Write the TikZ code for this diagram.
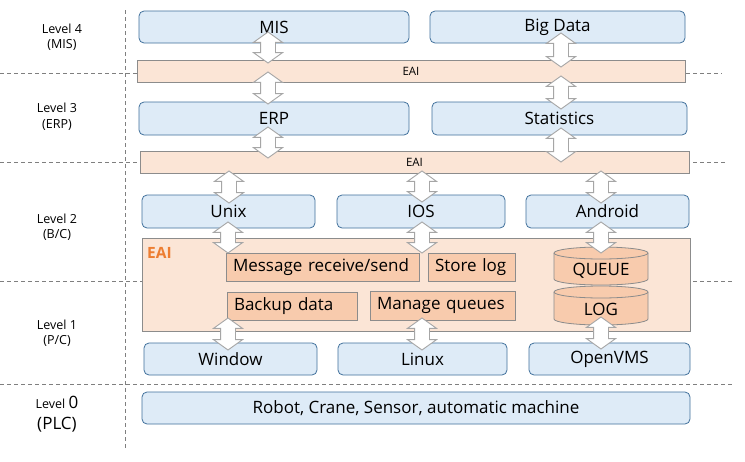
\documentclass[tikz,border=0pt]{standalone}
\usepackage{fontspec}
\setmainfont{Open Sans}
\usetikzlibrary{shapes.arrows}
\definecolor{bfill}{HTML}{DEEBF7}
\definecolor{bdraw}{HTML}{41719C}
\definecolor{pfill}{HTML}{FBE5D6}
\definecolor{pdraw}{HTML}{8C8C8C}
\definecolor{ifill}{HTML}{F8CBAD}
\definecolor{orng}{HTML}{ED7D31}
\definecolor{agray}{HTML}{A6A6A6}
\definecolor{dgray}{HTML}{7F7F7F}
\begin{document}
\begin{tikzpicture}[x=1pt,y=-1pt,
  bluebox/.style={draw=bdraw, fill=bfill, rounded corners=5pt, line width=0.8pt, inner sep=0pt, font=\fontsize{17}{20}\selectfont},
  eaibar/.style={draw=pdraw, fill=pfill, line width=0.8pt, inner sep=0pt, font=\fontsize{11.5}{13}\selectfont},
  innerbox/.style={draw=pdraw, fill=ifill, line width=0.8pt, inner xsep=7pt, inner ysep=0pt, align=left, font=\fontsize{17}{20}\selectfont},
  cyl/.style={draw=pdraw, fill=ifill, line width=0.8pt},
  updown/.style={double arrow, rotate=90, draw=agray, fill=white, line width=0.9pt,
    inner xsep=0pt, inner ysep=7pt, minimum width=28pt,
    double arrow head extend=7pt, double arrow tip angle=109, double arrow head indent=0pt},
  sep/.style={draw=dgray, dashed, dash pattern=on 4pt off 3pt, line width=0.7pt},
  lvl/.style={font=\fontsize{12.5}{15.5}\selectfont, align=center, inner sep=0pt}
]
\useasboundingbox (0,0) rectangle (745,461);
\fill[white] (0,0) rectangle (745,461);

% separators
\coordinate (v1) at (125,10);
\coordinate (v2) at (125,450);
\draw[sep] (v1) -- (v2);
\coordinate (h1a) at (0,73);   \coordinate (h1b) at (722,73);
\coordinate (h2a) at (0,162);  \coordinate (h2b) at (725,162);
\coordinate (h3a) at (0,281);  \coordinate (h3b) at (733,281);
\coordinate (h4a) at (0,384);  \coordinate (h4b) at (733,384);
\draw[sep] (h1a) -- (h1b);
\draw[sep] (h2a) -- (h2b);
\draw[sep] (h3a) -- (h3b);
\draw[sep] (h4a) -- (h4b);

% level labels
\node[lvl] (l4) at (62,37) {Level 4\\(MIS)};
\node[lvl] (l3) at (57,116.5) {Level 3\\(ERP)};
\node[lvl] (l2) at (57,227) {Level 2\\(B/C)};
\node[lvl] (l1) at (57,333) {Level 1\\(P/C)};
\node[lvl] (l0a) at (57,402) {Level {\fontsize{17}{20}\selectfont 0}};
\node[lvl, font=\fontsize{17}{20}\selectfont] (l0b) at (57,425) {(PLC)};

% level 4
\node[bluebox, minimum width=270pt, minimum height=32pt] (mis) at (274,27) {MIS};
\node[bluebox, minimum width=255pt, minimum height=32pt] (bigdata) at (557.5,27) {Big Data};
\node[eaibar, minimum width=548pt, minimum height=22pt] (eai1) at (411,71) {EAI};

% level 3
\node[bluebox, minimum width=270pt, minimum height=33pt] (erp) at (274,118.5) {ERP};
\node[bluebox, minimum width=255pt, minimum height=33pt] (stat) at (559.5,118.5) {Statistics};
\node[eaibar, minimum width=549pt, minimum height=22pt] (eai2) at (414.5,162) {EAI};

% level 2
\node[bluebox, minimum width=173pt, minimum height=33pt] (unix) at (228.5,211.5) {Unix};
\node[bluebox, minimum width=168pt, minimum height=33pt] (ios) at (421,211.5) {IOS};
\node[bluebox, minimum width=163pt, minimum height=33pt] (android) at (607.5,211.5) {Android};

% EAI block
\node[draw=pdraw, fill=pfill, line width=0.8pt, minimum width=548pt, minimum height=93pt, inner sep=0pt] (eaibig) at (416,284.5) {};
\node[anchor=west, inner sep=0pt, text=orng, font=\fontsize{15.5}{18}\selectfont\bfseries] (eailbl) at (147,253) {EAI};
\node[innerbox, minimum width=193pt, minimum height=28pt, text width=179pt] (msg) at (322.5,267) {Message receive/send};
\node[innerbox, minimum width=87pt, minimum height=28pt, text width=73pt] (store) at (471.5,267) {Store log};
\node[innerbox, minimum width=130pt, minimum height=28pt, text width=116pt] (backup) at (292,306) {Backup data};
\node[innerbox, minimum width=145pt, minimum height=29pt, text width=131pt] (manage) at (442.5,305.5) {Manage queues};

% cylinders
\path[cyl] (554,253) -- (554,279) arc (180:360:47pt and 6pt) -- (648,253) arc (0:180:47pt and 6pt) -- cycle;
\draw[pdraw, line width=0.8pt] (554,253) arc (180:360:47pt and 6pt);
\node[inner sep=0pt, font=\fontsize{17}{20}\selectfont] (queue) at (601,271) {QUEUE};
\path[cyl] (554,292) -- (554,319) arc (180:360:47pt and 6pt) -- (648,292) arc (0:180:47pt and 6pt) -- cycle;
\draw[pdraw, line width=0.8pt] (554,292) arc (180:360:47pt and 6pt);
\node[inner sep=0pt, font=\fontsize{17}{20}\selectfont] (log) at (601,309) {LOG};

% level 1
\node[bluebox, minimum width=173pt, minimum height=32pt] (window) at (230.5,359) {Window};
\node[bluebox, minimum width=169pt, minimum height=32pt] (linux) at (422.5,359) {Linux};
\node[bluebox, minimum width=161pt, minimum height=32pt] (openvms) at (609.5,359) {OpenVMS};

% level 0
\node[bluebox, minimum width=548pt, minimum height=32pt] (robot) at (416,408) {Robot, Crane, Sensor, automatic machine};

% block arrows
\node[updown, minimum height=31pt] (a1) at (268,47.5) {};
\node[updown, minimum height=32pt] (a2) at (268,88) {};
\node[updown, minimum height=31pt] (a3) at (268,142.5) {};
\node[updown, minimum height=32pt] (a4) at (229,187) {};
\node[updown, minimum height=34pt] (a5) at (561,50) {};
\node[updown, minimum height=33pt] (a6) at (561,92.5) {};
\node[updown, minimum height=34pt] (a7) at (561,145) {};
\node[updown, minimum height=31pt] (a8) at (422,186.5) {};
\node[updown, minimum height=32pt] (a9) at (601,187) {};
\node[updown, minimum height=31pt] (a10) at (228,237.5) {};
\node[updown, minimum height=31pt] (a11) at (422,237.5) {};
\node[updown, minimum height=31pt] (a12) at (601,237.5) {};
\node[updown, minimum height=32pt] (a13) at (228,334) {};
\node[updown, minimum height=32pt] (a14) at (422,334) {};
\node[updown, minimum height=32pt] (a15) at (601,333) {};
\end{tikzpicture}
\end{document}
